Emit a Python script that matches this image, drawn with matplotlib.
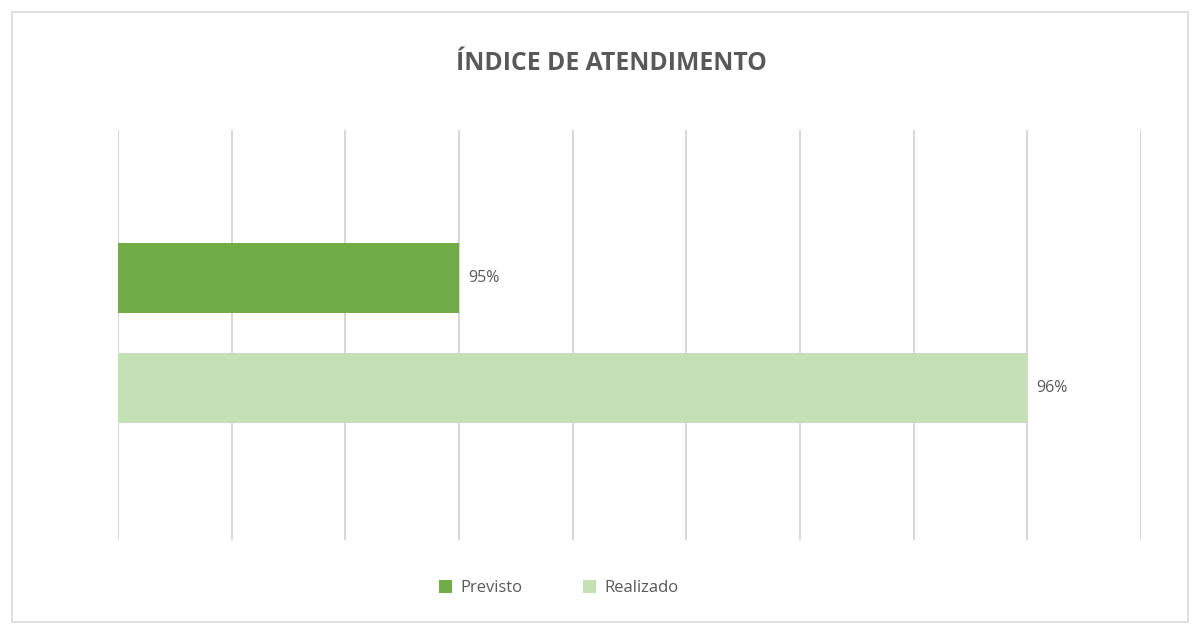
import numpy as np
import matplotlib.pyplot as plt
from matplotlib.patches import Rectangle

series = ['Previsto', 'Realizado']
values = [0.95, 0.96]
colors = ['#70AD47', '#C5E0B4']
labels = ['95%', '96%']
title = 'ÍNDICE DE ATENDIMENTO'

plt.rcParams['font.family'] = ['Open Sans', 'DejaVu Sans']

fig = plt.figure(figsize=(11.94, 6.25), dpi=100)
fig.patches.append(Rectangle((12 / 1194, 3 / 625), 1176 / 1194, 610 / 625,
                             transform=fig.transFigure, fill=False,
                             edgecolor='#d9d9d9', linewidth=1.2))

ax = fig.add_axes([118 / 1194, 1 - 540 / 625, 1023 / 1194, 410 / 625])

ypos = [1, 0]
for y, v, c, name, lab in zip(ypos, values, colors, series, labels):
    ax.barh(y, v, height=0.636, color=c, label=name, zorder=3)
    ax.text(v + 0.00016, y, lab, va='center', ha='left', fontsize=11.5, color='#595959')

ax.set_xlim(0.944, 0.962)
ax.set_ylim(-1.38, 2.345)
ax.set_xticks(np.arange(0.944, 0.9621, 0.002))
ax.xaxis.grid(True, color='#d4d4d4', linewidth=1.3, zorder=0)
ax.tick_params(left=False, bottom=False, labelleft=False, labelbottom=False)
for s in ax.spines.values():
    s.set_visible(False)

fig.text(0.512, 1 - 63 / 625, title, ha='center', va='center',
         fontsize=17.8, fontweight='bold', color='#595959')

handles, names = ax.get_legend_handles_labels()
fig.legend(handles, names, loc='center', bbox_to_anchor=(0.468, 1 - 588 / 625),
           ncol=2, frameon=False, fontsize=12, labelcolor='#595959',
           handlelength=0.8, handleheight=0.8, columnspacing=3.6, handletextpad=0.5)

fig.savefig('out.png', dpi=100, facecolor='white')
